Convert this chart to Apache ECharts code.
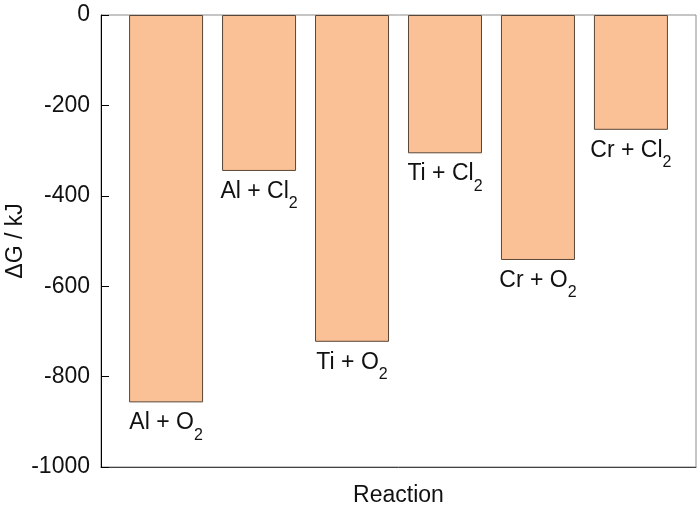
<!DOCTYPE html>
<html>
<head>
<meta charset="utf-8">
<script src="https://cdn.jsdelivr.net/npm/echarts@6/dist/echarts.min.js"></script>
<style>html,body{margin:0;padding:0;background:#fff;}#c{width:700px;height:510px;}</style>
</head>
<body>
<div id="c"></div>
<script>
const categories = ['Al + O2', 'Al + Cl2', 'Ti + O2', 'Ti + Cl2', 'Cr + O2', 'Cr + Cl2'];
const deltaG = [-857, -345, -723, -306, -542, -254];
const yTicks = [0, -200, -400, -600, -800, -1000];

const chart = echarts.init(document.getElementById('c'));
const F = 'Liberation Sans, Arial, sans-serif';
chart.setOption({
  animation: false,
  grid: { left: 101, right: 4, top: 15, bottom: 43, show: true, borderColor: '#8c8c8c', borderWidth: 1,
          containLabel: false, outerBoundsMode: 'none' },
  xAxis: {
    type: 'value', min: 0.3, max: 6.7,
    name: 'Reaction', nameLocation: 'middle', nameGap: 17, nameMoveOverlap: false,
    nameTextStyle: { fontFamily: F, fontSize: 23, color: '#111' },
    axisLine: { show: true, onZero: false, lineStyle: { color: '#404040', width: 1 } },
    axisTick: { show: false }, axisLabel: { show: false }, splitLine: { show: false }
  },
  yAxis: {
    type: 'value', min: -1000, max: 0, interval: 200,
    name: 'ΔG / kJ', nameLocation: 'middle', nameGap: 74, nameMoveOverlap: false,
    nameTextStyle: { fontFamily: F, fontSize: 23, color: '#111' },
    axisLine: { show: true, lineStyle: { color: '#000', width: 1 } },
    axisTick: { show: true, inside: true, length: 8, lineStyle: { color: '#000' } },
    axisLabel: { fontFamily: F, fontSize: 23, color: '#111', margin: 11,
      formatter: v => yTicks.includes(v) ? String(v) : '' },
    splitLine: { show: false }
  },
  series: [{
    type: 'bar',
    barWidth: 74,
    data: deltaG.map((v, i) => [i + 1, v]),
    itemStyle: { color: '#FAC196', borderColor: '#5a4636', borderWidth: 1 },
    label: {
      show: true, position: 'bottom', distance: 9,
      formatter: p => {
        const t = categories[p.dataIndex];
        return '{n|' + t.slice(0, -1) + '}{s|' + t.slice(-1) + '}';
      },
      rich: {
        n: { fontFamily: F, fontSize: 23, color: '#111', lineHeight: 32, verticalAlign: 'top' },
        s: { fontFamily: F, fontSize: 16, color: '#111', lineHeight: 16, verticalAlign: 'bottom' }
      }
    }
  }]
});
</script>
</body>
</html>
